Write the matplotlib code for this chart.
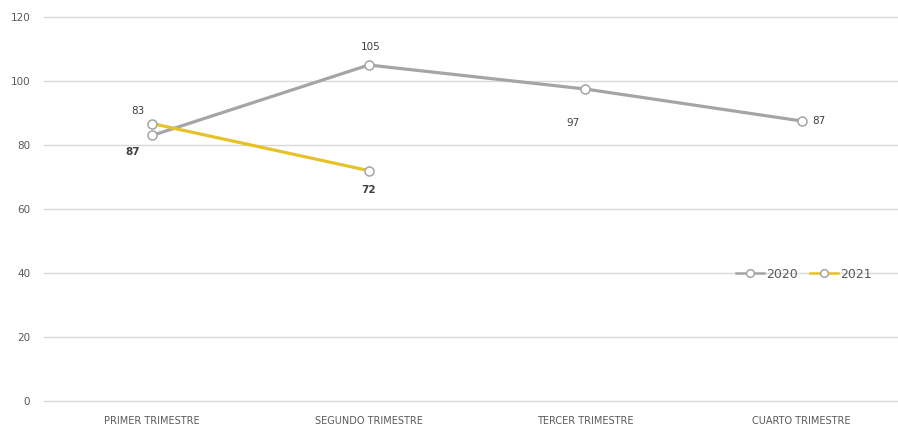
import matplotlib.pyplot as plt

# Data
trimestres = ['PRIMER TRIMESTRE', 'SEGUNDO TRIMESTRE', 'TERCER TRIMESTRE', 'CUARTO TRIMESTRE']
valores_2020 = [83, 105, 97.5, 87.5]
valores_2021 = [86.7, 72]
etiquetas_2020 = ['83', '105', '97', '87']
etiquetas_2021 = ['87', '72']

GRIS = '#A5A5A5'
AMARILLO = '#E6C229'
TEXTO = '#595959'

fig = plt.figure(figsize=(8.98, 4.25), dpi=100)
ax = fig.add_axes([44 / 898, 1 - 401 / 425, 854 / 898, 384 / 425])

x20 = list(range(len(valores_2020)))
x21 = list(range(len(valores_2021)))
ax.plot(x20, valores_2020, color=GRIS, lw=2.3, marker='o', ms=6.5,
        mfc='white', mec=GRIS, mew=1.1, label='2020', zorder=3)
ax.plot(x21, valores_2021, color=AMARILLO, lw=2.3, marker='o', ms=6.5,
        mfc='white', mec=GRIS, mew=1.1, label='2021', zorder=4)

# data labels (offsets in pixels, as placed in the original)
off_2020 = [(-14, 24), (2, 18), (-12, -34), (17, 0)]
for xi, yi, txt, (dx, dy) in zip(x20, valores_2020, etiquetas_2020, off_2020):
    ax.annotate(txt, (xi, yi), xytext=(dx, dy), textcoords='offset pixels',
                ha='center', va='center', fontsize=7.5, color='#404040')
off_2021 = [(-20, -28), (0, -19)]
for xi, yi, txt, (dx, dy) in zip(x21, valores_2021, etiquetas_2021, off_2021):
    ax.annotate(txt, (xi, yi), xytext=(dx, dy), textcoords='offset pixels',
                ha='center', va='center', fontsize=7.5, color='#404040',
                fontweight='bold')

ax.set_xlim(-0.5, 3.445)
ax.set_ylim(0, 120)
ax.set_yticks(range(0, 121, 20))
ax.set_xticks(x20)
ax.set_xticklabels(trimestres)
ax.tick_params(axis='x', length=0, pad=11, labelsize=7, labelcolor=TEXTO)
ax.tick_params(axis='y', length=0, pad=10, labelsize=7.5, labelcolor=TEXTO)
ax.grid(axis='y', color='#D9D9D9', lw=1)
for gl in ax.get_ygridlines():
    gl.set_clip_on(False)
ax.set_axisbelow(True)
for s in ax.spines.values():
    s.set_visible(False)

leg = ax.legend(loc='center', bbox_to_anchor=(0.89, 0.33), ncol=2, frameon=False,
                fontsize=9, labelcolor=TEXTO, handlelength=2.2, handletextpad=0.2,
                columnspacing=1.0, markerscale=0.85)
for h in leg.legend_handles:
    h.set_linewidth(1.8)

plt.savefig('out.png', dpi=100)
